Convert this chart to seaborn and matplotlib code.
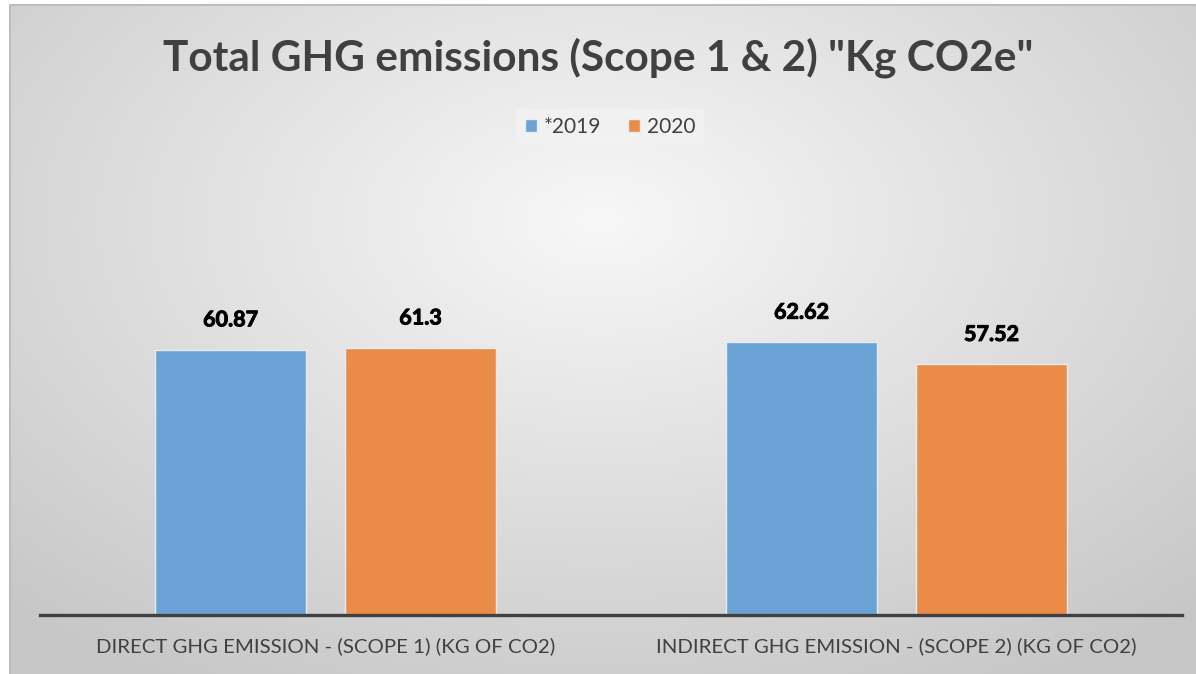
import numpy as np
import pandas as pd
import matplotlib
matplotlib.use("Agg")
import matplotlib.pyplot as plt
import matplotlib.patheffects as pe
import seaborn as sns

categories = ["DIRECT GHG EMISSION - (SCOPE 1) (KG OF CO2)",
              "INDIRECT GHG EMISSION - (SCOPE 2) (KG OF CO2)"]
series = ["*2019", "2020"]
vals_2019 = [60.87, 62.62]
vals_2020 = [61.3, 57.52]
labels_2019 = ["60.87", "62.62"]
labels_2020 = ["61.3", "57.52"]
colors = ["#6CA3D6", "#EB8B48"]

df = pd.DataFrame({
    "category": categories * 2,
    "year": [series[0]] * 2 + [series[1]] * 2,
    "value": vals_2019 + vals_2020,
})

sns.set_theme(style="white")
plt.rcParams["font.family"] = ["Lato", "DejaVu Sans"]

W, H = 1196, 674
fig = plt.figure(figsize=(W / 100, H / 100), dpi=100)
fig.patch.set_facecolor("white")

# radial gradient background (chart area runs off the right/bottom edges)
bg = fig.add_axes([10 / W, 0, (W - 10) / W, (H - 5) / H], zorder=-5)
yy, xx = np.mgrid[0:669, 0:1186]
r = np.sqrt(((xx + 10 - 600) / 1000.0) ** 2 + ((yy + 5 - 220) / 620.0) ** 2)
v = np.clip(0.97 - 0.22 * r, 0.78, 1.0)
bg.imshow(np.dstack([v, v, v]), aspect="auto", interpolation="bilinear")
bg.set_axis_off()
bg.plot([0, 0, 1], [0, 1, 1], transform=bg.transAxes, color="#bdbdbd", lw=1.5,
        clip_on=False)

ax = fig.add_axes([40 / W, (H - 615) / H, 1142 / W, 305 / H])
ax.patch.set_alpha(0)
sns.barplot(data=df, x="category", y="value", hue="year", palette=colors,
            width=0.6655, gap=0.205, ax=ax, edgecolor="#e6ecf2", linewidth=1,
            saturation=1)
ax.set_xlim(-0.5, 1.5)
ax.set_ylim(0, 70)
ax.set_xlabel("")
ax.set_ylabel("")
ax.set_yticks([])
for s in ["top", "right", "left"]:
    ax.spines[s].set_visible(False)
ax.spines["bottom"].set_color("#404040")
ax.spines["bottom"].set_linewidth(2.4)
ax.tick_params(axis="x", length=0, pad=16, labelsize=14.7, labelcolor="#404040")

for cont, labs in zip(ax.containers, [labels_2019, labels_2020]):
    txts = ax.bar_label(cont, labels=labs, padding=14, fontsize=15.5,
                        fontweight="bold", color="black")
    for t in txts:
        t.set_path_effects([pe.withStroke(linewidth=0.7, foreground="black")])

handles, labs = ax.get_legend_handles_labels()
ax.legend(handles, labs, loc="center", bbox_to_anchor=(610 / W, (H - 127) / H),
          bbox_transform=fig.transFigure, ncol=2, frameon=True, fontsize=15,
          facecolor="#f3f3f3", edgecolor="none", framealpha=0.7,
          handlelength=0.6, handleheight=0.6, handletextpad=0.3,
          columnspacing=1.3, labelcolor="#404040", fancybox=False)

fig.text(598 / W, (H - 58) / H, 'Total GHG emissions (Scope 1 & 2) "Kg CO2e"',
         ha="center", va="center", fontsize=30.5, fontweight="bold", color="#404040")

fig.savefig("out.png", dpi=100)
